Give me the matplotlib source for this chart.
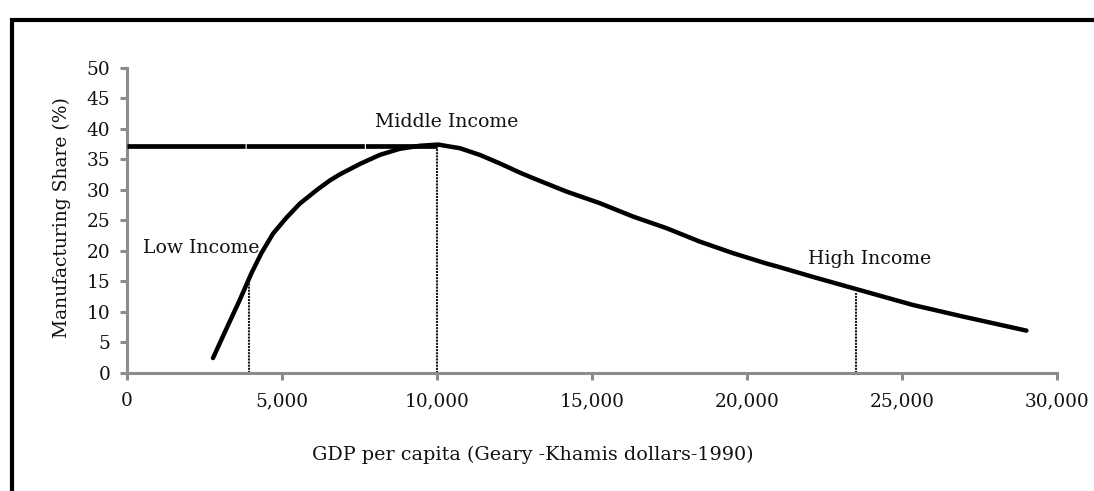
import matplotlib
matplotlib.use("Agg")
import matplotlib.pyplot as plt
from matplotlib.patches import Rectangle
from matplotlib.ticker import FuncFormatter

# --- data ---
gdp = [2774, 3206, 3635, 4013, 4335, 4710, 5142, 5571, 6110, 6539, 6861,
       7506, 8152, 8797, 9442, 10032, 10739, 11384, 12029, 12674, 13097,
       14174, 15248, 16323, 17400, 18474, 19548, 20626, 21055, 22129,
       23529, 25355, 26968, 29013]
share = [2.4, 7.2, 11.9, 16.3, 19.6, 22.8, 25.4, 27.7, 29.9, 31.5, 32.5,
         34.2, 35.7, 36.7, 37.2, 37.4, 36.8, 35.7, 34.3, 32.8, 31.9,
         29.7, 27.8, 25.6, 23.7, 21.5, 19.6, 17.9, 17.3, 15.7,
         13.7, 11.1, 9.2, 6.9]

peak_line_x = [0, 10000]
peak_line_y = [37.1, 37.1]

threshold_x = [3950, 10000, 23500]
threshold_top = [15.8, 37.4, 13.1]

labels = ["Low Income", "Middle Income", "High Income"]
label_x = [2400, 10300, 23950]
label_y = [20.4, 41.1, 18.6]

xticks = [0, 5000, 10000, 15000, 20000, 25000, 30000]
yticks = [0, 5, 10, 15, 20, 25, 30, 35, 40, 45, 50]

plt.rcParams['font.family'] = ['DejaVu Serif']

fig = plt.figure(figsize=(10.94, 4.91), dpi=100)
ax = fig.add_axes([127/1094, 1 - 372.7/491, 930/1094, 305/491])

ax.plot(gdp, share, color='black', lw=3.2, solid_capstyle='round',
        solid_joinstyle='round', zorder=3)
ax.plot(peak_line_x, peak_line_y, color='black', lw=3.4,
        linestyle=(0, (25, 0.25)), zorder=3)
ax.vlines(threshold_x, 0, threshold_top, colors='#1a1a1a', lw=1.5,
          linestyles=(0, (1, 0.5)), zorder=2)

for t, lx, ly in zip(labels, label_x, label_y):
    ax.text(lx, ly, t, ha='center', va='center', fontsize=13.6, color='#111111')

ax.set_xlim(0, 30000)
ax.set_ylim(0, 50)
ax.set_xticks(xticks)
ax.set_yticks(yticks)
ax.xaxis.set_major_formatter(FuncFormatter(lambda v, p: f"{int(v):,}"))

for s in ['top', 'right']:
    ax.spines[s].set_visible(False)
for s in ['left', 'bottom']:
    ax.spines[s].set_color('#8c8c8c')
    ax.spines[s].set_linewidth(2.2)

ax.tick_params(axis='both', colors='#8c8c8c', width=2.2, length=5,
               direction='out', labelsize=13.3, labelcolor='#111111')
ax.tick_params(axis='y', pad=7.0)
ax.tick_params(axis='x', pad=9)

ax.set_xlabel("GDP per capita (Geary -Khamis dollars-1990)", fontsize=13.8,
              color='#111111', va='center')
ax.xaxis.set_label_coords(0.436, -0.269)
ax.set_ylabel("Manufacturing Share (%)", fontsize=13.5, color='#111111', va='center')
ax.yaxis.set_label_coords(-0.0699, 0.51)

frame = Rectangle((11.5/1094, -0.2), 1.5, 1 - 19.5/491 + 0.2,
                  transform=fig.transFigure, fill=False, edgecolor='black',
                  lw=3.0, clip_on=False)
fig.add_artist(frame)

fig.savefig("out.png", dpi=100)
